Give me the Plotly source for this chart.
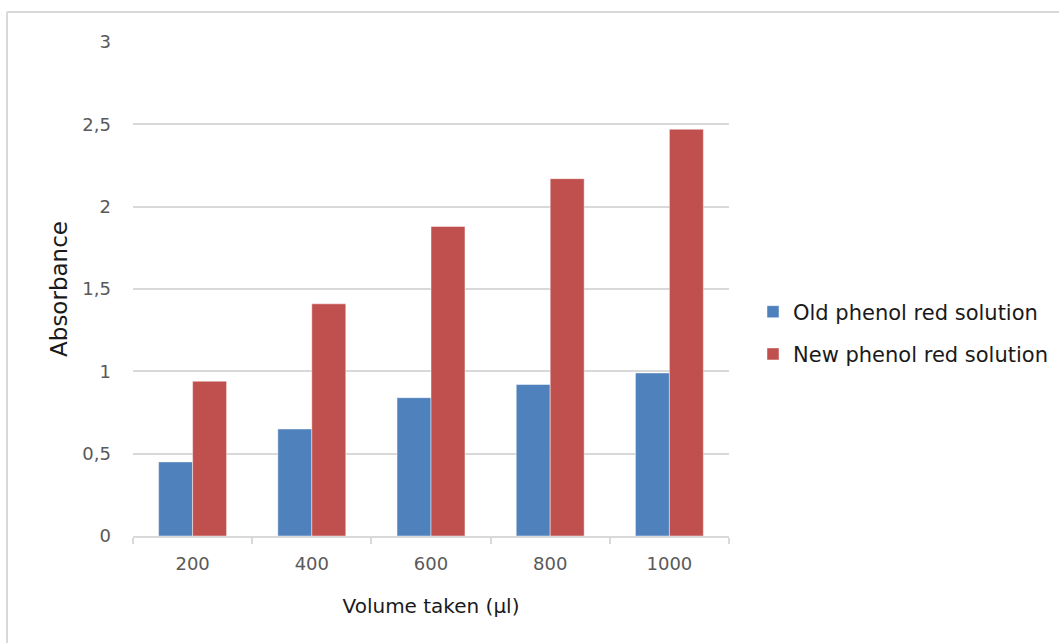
import plotly.graph_objects as go

# Absorbance readings per volume of phenol red solution taken
volumes = ["200", "400", "600", "800", "1000"]
old_solution = [0.45, 0.65, 0.84, 0.92, 0.99]
new_solution = [0.94, 1.41, 1.88, 2.17, 2.47]
y_ticks = [0, 0.5, 1, 1.5, 2, 2.5, 3]

W, H = 1059, 643
L, R, T, B = 133, 330, 42, 107
pw, ph = W - L - R, H - T - B

FONT = "DejaVu Sans"
GRID = "#d9d9d9"

fig = go.Figure()
fig.add_trace(go.Bar(
    x=volumes, y=old_solution, name="Old phenol red solution",
    marker=dict(color="#4F81BD", line=dict(color="rgba(255,255,255,0.45)", width=1)),
    legendgroup="old",
))
fig.add_trace(go.Bar(
    x=volumes, y=new_solution, name="New phenol red solution",
    marker=dict(color="#C0504D", line=dict(color="rgba(255,255,255,0.45)", width=1)),
    legendgroup="new",
))

# Chart frame (left and top edges)
def px_x(p):
    return (p - L) / pw

def px_y(p):
    return (H - B - p) / ph

frame = dict(color="#d9d9d9", width=2)
fig.add_shape(type="line", xref="paper", yref="paper",
              x0=px_x(7), x1=px_x(W + 5), y0=px_y(12), y1=px_y(12), line=frame)
fig.add_shape(type="line", xref="paper", yref="paper",
              x0=px_x(7), x1=px_x(7), y0=px_y(12), y1=px_y(H + 5), line=frame)

fig.update_layout(
    width=W, height=H,
    margin=dict(l=L, r=R, t=T, b=B, pad=0, autoexpand=False),
    paper_bgcolor="white", plot_bgcolor="white",
    separators=",.",
    barmode="group", bargap=0.43, bargroupgap=0,
    font=dict(family=FONT, color="#595959"),
    showlegend=True,
    legend=dict(
        x=px_x(753), y=px_y(333), xanchor="left", yanchor="middle",
        font=dict(family=FONT, size=21, color="#1a1a1a"),
        traceorder="grouped", tracegroupgap=12,
        itemwidth=30, bgcolor="rgba(0,0,0,0)",
    ),
    xaxis=dict(
        type="category",
        showline=True, linecolor=GRID, linewidth=1.5,
        ticks="outside", tickson="boundaries", ticklen=6, tickcolor=GRID, tickwidth=1.5,
        showgrid=False, ticklabelstandoff=11,
        tickfont=dict(family=FONT, size=18, color="#595959"),
        title=dict(text="Volume taken (µl)", standoff=26,
                   font=dict(family=FONT, size=20, color="#1a1a1a")),
    ),
    yaxis=dict(
        range=[0, 3], tickvals=y_ticks,
        showgrid=True, gridcolor=GRID, gridwidth=1.5,
        zeroline=False, showline=False,
        ticks="", ticklabelstandoff=21,
        tickfont=dict(family=FONT, size=18, color="#595959"),
        title=dict(text="Absorbance", standoff=8,
                   font=dict(family=FONT, size=23, color="#1a1a1a")),
    ),
)

fig.write_html("out.html")
